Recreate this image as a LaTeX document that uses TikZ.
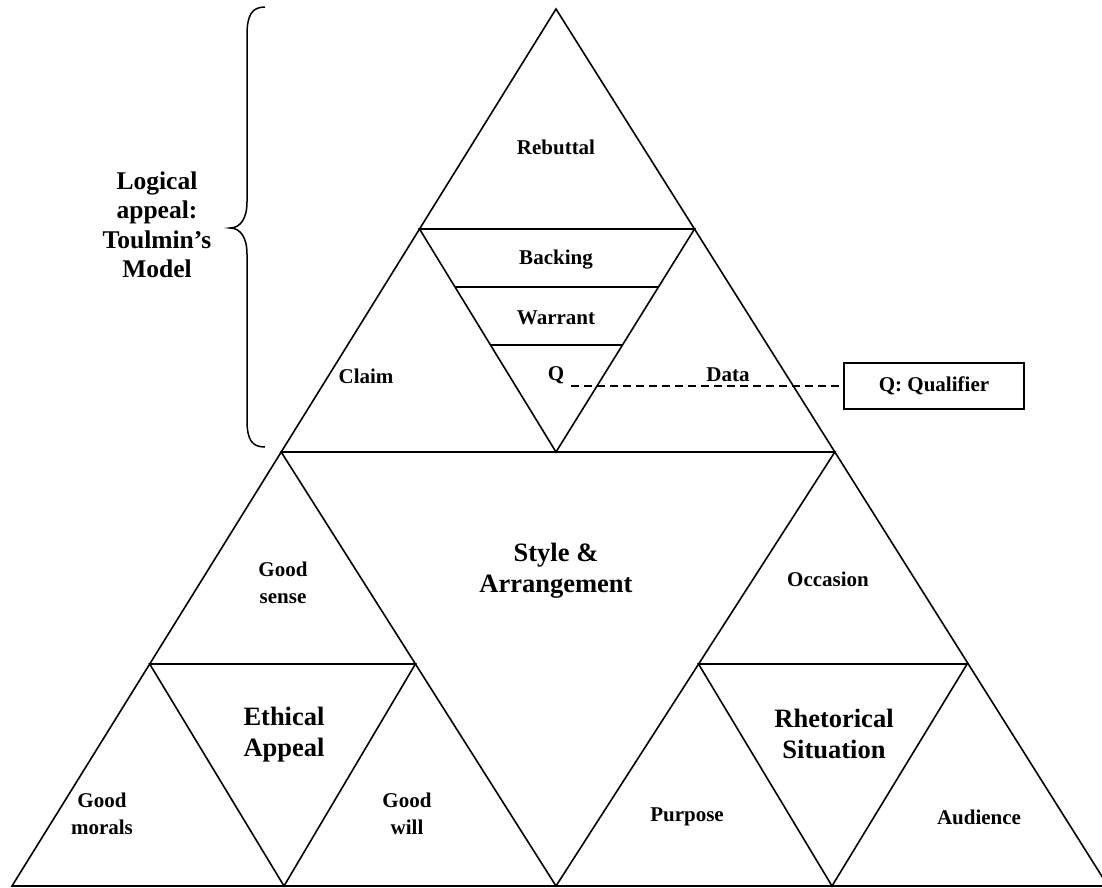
\documentclass[tikz,border=0pt]{standalone}
\usepackage{fontspec}
\usetikzlibrary{calc}
\setmainfont{Liberation Serif}
\begin{document}
\begin{tikzpicture}[x=1pt,y=-1pt,
  edge/.style={line width=1.6pt,line join=miter},
  small/.style={font=\fontsize{21}{26.5}\selectfont\bfseries,align=center,inner sep=0pt},
  big/.style={font=\fontsize{26.5}{31}\selectfont\bfseries,align=center,inner sep=0pt},
  side/.style={font=\fontsize{25.5}{29.5}\selectfont\bfseries,align=center,inner sep=0pt},
  qbox/.style={draw,line width=1.6pt,minimum width=180pt,minimum height=46pt,font=\fontsize{21}{26}\selectfont\bfseries,inner sep=0pt},
  link/.style={line width=1.4pt,dash pattern=on 8pt off 5pt}]
\useasboundingbox (0,0) rectangle (1102,888);
\clip (0,0) rectangle (1102,888);
% vertices
\coordinate (A) at (556,9);
\coordinate (BL) at (12,886);
\coordinate (BR) at (1108,886);
\coordinate (BM) at (556,886);
\coordinate (L1) at (281.2,452);
\coordinate (R1) at (834.8,452);
\coordinate (TM) at (556,452);
\coordinate (T1) at (419.5,229);
\coordinate (T2) at (694.5,229);
\coordinate (LL) at (149.7,664);
\coordinate (LR) at (415.4,664);
\coordinate (LB) at (284,886);
\coordinate (RL) at (698.5,664);
\coordinate (RR) at (967.1,664);
\coordinate (RB) at (832,886);
% outer triangle
\draw[edge] (A) -- (BL) -- (BR) -- cycle;
% subdivision
\draw[edge] (L1) -- (R1) -- (BM) -- cycle;
\draw[edge] (T1) -- (T2) -- (TM) -- cycle;
\draw[edge] (LL) -- (LR) -- (LB) -- cycle;
\draw[edge] (RL) -- (RR) -- (RB) -- cycle;
\draw[edge] ($(T1)!0.26!(TM)$) -- ($(T2)!0.26!(TM)$);
\draw[edge] ($(T1)!0.52!(TM)$) -- ($(T2)!0.52!(TM)$);
% brace
\draw[line width=1.5pt] (265,7) .. controls (252,7) and (247,15) .. (247,35) -- (247,202) .. controls (247,219) and (240,228) .. (230,228) .. controls (240,228) and (247,237) .. (247,254) -- (247,420) .. controls (247,440) and (252,447) .. (265,447);
% labels
\node[side] (logic) at (157,225) {Logical\\appeal:\\Toulmin’s\\Model};
\node[small] (rebuttal) at (556,147) {Rebuttal};
\node[small] (backing) at (556,260) {Backing};
\node[small] (warrant) at (556,318) {Warrant};
\node[small] (q) at (556,375) {Q};
\node[small] (claim) at (366,376) {Claim};
\node[small] (data) at (728,375) {Data};
\node[qbox] (qual) at (934,386) {Q: Qualifier};
\draw[link] ([xshift=7pt]q.east |- qual.west) -- (qual.west);
\node[big] (style) at (556,571) {Style \&\\Arrangement};
\node[small] (sense) at (283,583) {Good\\sense};
\node[small] (occasion) at (828,579) {Occasion};
\node[big] (ethical) at (284,735) {Ethical\\Appeal};
\node[big] (rhet) at (834,734) {Rhetorical\\Situation};
\node[small] (morals) at (102,814) {Good\\morals};
\node[small] (will) at (407,814) {Good\\will};
\node[small] (purpose) at (687,817) {Purpose};
\node[small] (audience) at (979,817) {Audience};
\end{tikzpicture}
\end{document}
